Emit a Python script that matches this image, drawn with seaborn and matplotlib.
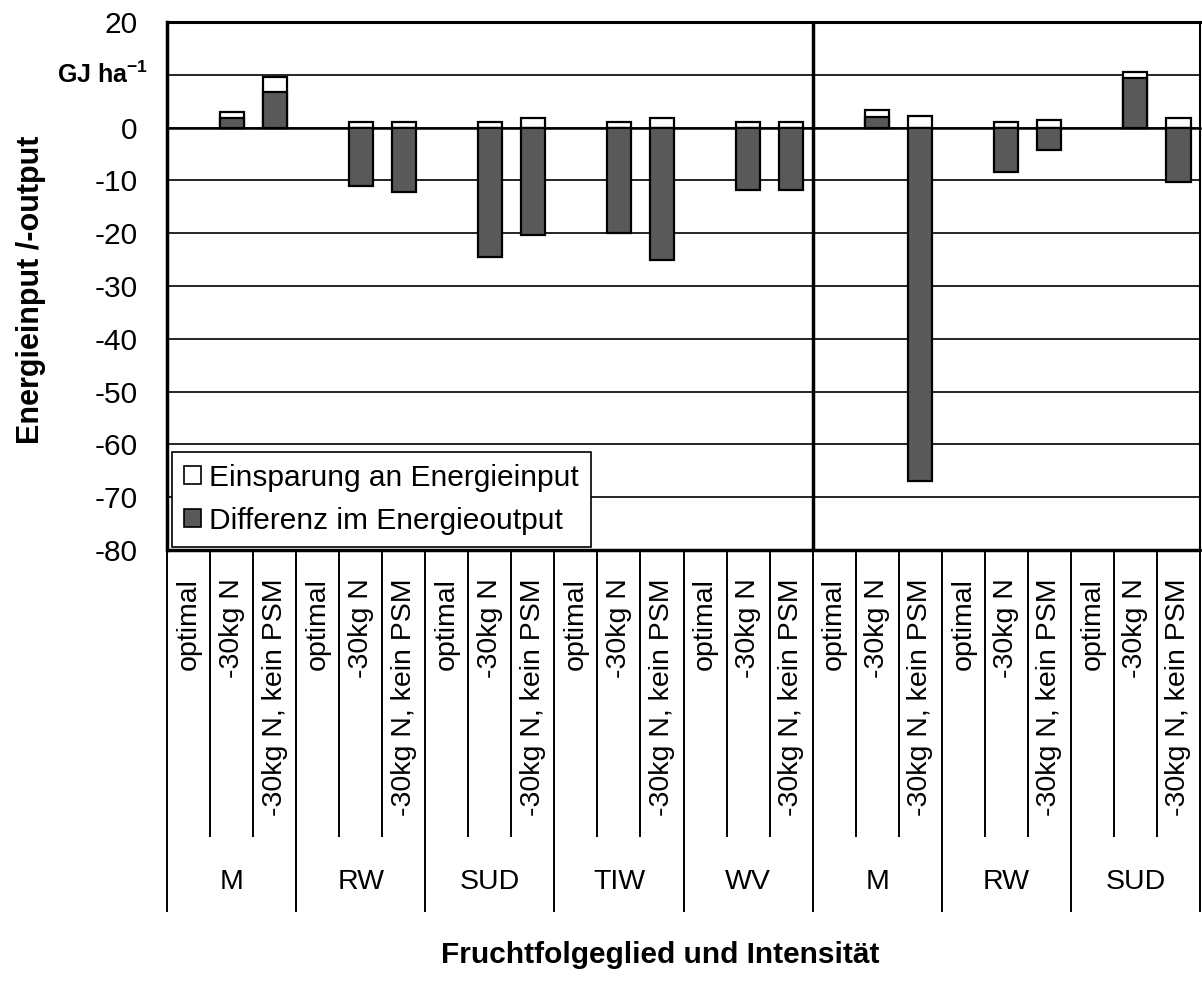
import numpy as np
import pandas as pd
import matplotlib
matplotlib.use("Agg")
import matplotlib.pyplot as plt
from matplotlib.patches import Patch
from matplotlib.transforms import blended_transform_factory
import seaborn as sns

# ---------------- data ----------------
groups = ["M", "RW", "SUD", "TIW", "WV", "M", "RW", "SUD"]
levels = ["optimal", "-30kg N", "-30kg N, kein PSM"]

# Einsparung an Energieinput (white part), 3 values per group
einsparung_M1 = [0, 1.15, 2.7]
einsparung_RW1 = [0, 1.0, 1.0]
einsparung_SUD1 = [0, 1.0, 1.8]
einsparung_TIW = [0, 1.0, 1.8]
einsparung_WV = [0, 1.0, 1.0]
einsparung_M2 = [0, 1.3, 2.2]
einsparung_RW2 = [0, 1.0, 1.4]
einsparung_SUD2 = [0, 1.2, 1.8]

# Differenz im Energieoutput (dark part)
differenz_M1 = [0, 1.8, 6.8]
differenz_RW1 = [0, -11.1, -12.2]
differenz_SUD1 = [0, -24.6, -20.4]
differenz_TIW = [0, -20.0, -25.0]
differenz_WV = [0, -11.9, -11.9]
differenz_M2 = [0, 2.0, -67.0]
differenz_RW2 = [0, -8.5, -4.2]
differenz_SUD2 = [0, 9.4, -10.3]

einsparung = (einsparung_M1 + einsparung_RW1 + einsparung_SUD1 + einsparung_TIW
              + einsparung_WV + einsparung_M2 + einsparung_RW2 + einsparung_SUD2)
differenz = (differenz_M1 + differenz_RW1 + differenz_SUD1 + differenz_TIW
             + differenz_WV + differenz_M2 + differenz_RW2 + differenz_SUD2)

yticks = [-80, -70, -60, -50, -40, -30, -20, -10, 0, 10, 20]
ytick_labels = ["-80", "-70", "-60", "-50", "-40", "-30", "-20", "-10", "0", "", "20"]
unit_label = r"GJ ha$^{\mathbf{-1}}$"

legend_labels = ["Einsparung an Energieinput", "Differenz im Energieoutput"]
ylabel = "Energieinput /-output"
xlabel = "Fruchtfolgeglied und Intensität"

# ---------------- style ----------------
sns.set_theme(style="white")
plt.rcParams['font.family'] = ['Liberation Sans', 'DejaVu Sans']
plt.rcParams['mathtext.fontset'] = 'custom'
plt.rcParams['mathtext.rm'] = 'Liberation Sans'
plt.rcParams['mathtext.bf'] = 'Liberation Sans:bold'
plt.rcParams['text.color'] = 'black'
plt.rcParams['xtick.color'] = 'black'
plt.rcParams['ytick.color'] = 'black'
plt.rcParams['axes.labelcolor'] = 'black'

DARK = "#595959"
FS = 20.5

keys = [f"{gi}_{li}" for gi in range(len(groups)) for li in range(len(levels))]
df = pd.DataFrame({
    "key": keys,
    "group": [g for g in groups for _ in levels],
    "level": [l for _ in groups for l in levels],
    "einsparung": einsparung,
    "differenz": differenz,
})
df["top"] = np.maximum(df["differenz"], 0) + df["einsparung"]

fig = plt.figure(figsize=(12.02, 9.9), dpi=100)
W, H = 1202, 990
ax = fig.add_axes([167 / W, 1 - 550 / H, (1200 - 167) / W, 528 / H])

sns.barplot(data=df, x="key", y="top", order=keys, color="white",
            edgecolor="black", linewidth=1.6, width=0.56, saturation=1,
            errorbar=None, ax=ax, zorder=3)
sns.barplot(data=df, x="key", y="differenz", order=keys, color=DARK,
            edgecolor="black", linewidth=1.6, width=0.56, saturation=1,
            errorbar=None, ax=ax, zorder=4)
# hide empty (zero-height) bars
for p in ax.patches:
    if abs(p.get_height()) < 1e-9:
        p.set_visible(False)

n = len(keys)
ax.set_xlim(-0.5, n - 0.5)
ax.set_ylim(-80, 20)
ax.set_xlabel("")
ax.set_ylabel("")

# y axis
ax.set_yticks(yticks)
ax.set_yticklabels(ytick_labels, fontsize=21.5, color="black")
ax.tick_params(axis="y", direction="out", length=7, width=1.5, color="black",
               labelcolor="black", pad=14)
ytr = blended_transform_factory(ax.transAxes, ax.transData)
ax.text(-(167 - 148) / 1033, 10, unit_label, transform=ytr, ha="right",
        va="center", fontsize=18, fontweight="bold", color="black", clip_on=False)
ax.yaxis.grid(True, color="black", linewidth=1.2)
ax.xaxis.grid(False)
ax.set_axisbelow(True)

# x axis at zero with ticks at category boundaries
ax.spines["bottom"].set_position(("data", 0))
ax.set_xticks(np.arange(0.5, n - 0.5, 1))
ax.set_xticklabels([])
ax.tick_params(axis="x", direction="out", length=7, width=1.5, color="black")
for s in ["left", "right", "top", "bottom"]:
    ax.spines[s].set_color("black")
ax.spines["left"].set_linewidth(2.5)
ax.spines["top"].set_linewidth(2.2)
ax.spines["right"].set_linewidth(1.5)
ax.spines["bottom"].set_linewidth(1.8)
ax.axhline(-80, color="black", linewidth=2.5, clip_on=False, zorder=6)
ax.axvline(14.5, color="black", linewidth=2.5, zorder=6)

# multi-level category axis below plot
tr = blended_transform_factory(ax.transData, ax.transAxes)
y_sub = (550 - 837) / 528
y_grp = (550 - 912) / 528
y_grp_lab = (550 - 882) / 528
y_cat = (550 - 578) / 528
for k in range(n + 1):
    x = k - 0.5
    yb = y_grp if k % 3 == 0 else y_sub
    ax.plot([x, x], [0, yb], transform=tr, color="black", linewidth=1.4,
            clip_on=False, solid_capstyle="butt")
for i, key in enumerate(keys):
    ax.text(i, y_cat, df["level"][i], transform=tr, rotation=90,
            ha="center", va="top", fontsize=FS, color="black", clip_on=False)
for gi, g in enumerate(groups):
    ax.text(gi * 3 + 1, y_grp_lab, g, transform=tr, ha="center", va="center",
            fontsize=FS, color="black", clip_on=False)

# legend
handles = [Patch(facecolor="white", edgecolor="black", linewidth=1.2),
           Patch(facecolor=DARK, edgecolor="black", linewidth=1.2)]
leg = ax.legend(handles, legend_labels, loc="lower left",
                bbox_to_anchor=(0.005, 0.006), borderaxespad=0,
                fontsize=21.5, frameon=True, fancybox=False, framealpha=1,
                edgecolor="black", handlelength=0.55, handleheight=0.55,
                handletextpad=0.3, labelspacing=0.5, borderpad=0.4)
leg.get_frame().set_linewidth(1.2)
leg.set_zorder(10)
for t in leg.get_texts():
    t.set_color("black")

# axis titles
fig.text(31 / W, 1 - 290 / H, ylabel, rotation=90, ha="center", va="center",
         fontsize=22, fontweight="bold", color="black")
fig.text(660 / W, 1 - 955 / H, xlabel, ha="center", va="center",
         fontsize=21.5, fontweight="bold", color="black")

fig.savefig("out.png", dpi=100, facecolor="white")
